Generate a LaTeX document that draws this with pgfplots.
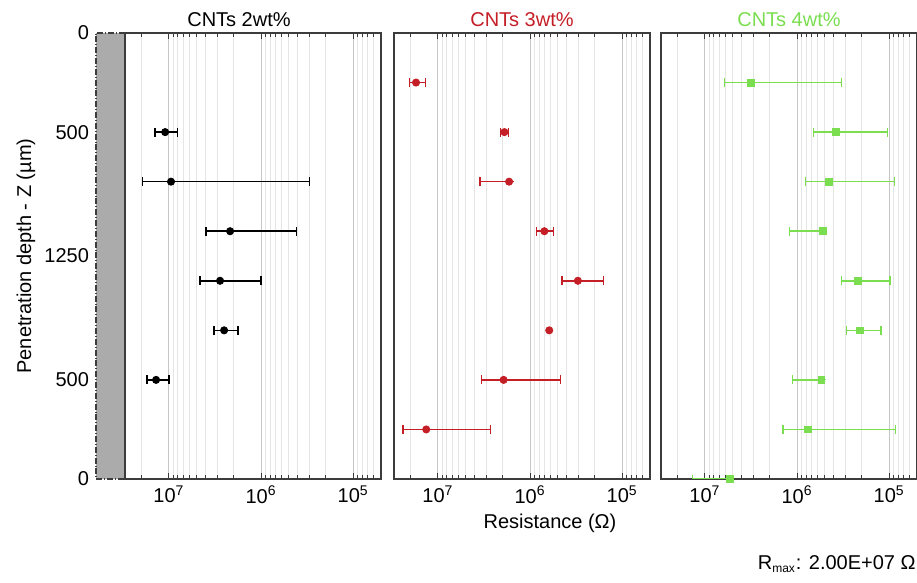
\documentclass[border=0pt]{standalone}
\usepackage{pgfplots}
\pgfplotsset{compat=1.18}
\usepackage{fontspec}
\setmainfont{Liberation Sans}

\definecolor{cntred}{RGB}{196,30,38}
\definecolor{cntgreen}{RGB}{122,222,80}
\definecolor{boxgray}{RGB}{60,60,60}

\pgfplotsset{
  every axis/.append style={
    scale only axis, width=128pt, height=223pt,
    x dir=reverse, xmin=5e4, xmax=3e7,
    ymin=0, ymax=9, y dir=reverse,
    xtick={1e7,1e6,1e5},
    xticklabels={10\textsuperscript{7},10\textsuperscript{6},10\textsuperscript{5}},
    minor xtick={6e4,7e4,8e4,9e4,2e5,3e5,4e5,5e5,6e5,7e5,8e5,9e5,
                 2e6,3e6,4e6,5e6,6e6,7e6,8e6,9e6,2e7,3e7},
    xmajorgrids, xminorgrids,
    major grid style={gray!45, line width=0.5pt},
    minor grid style={gray!20, line width=0.4pt},
    axis line style={boxgray, line width=0.8pt},
    tick style={boxgray, line width=0.5pt},
    major tick length=3pt, minor tick length=2pt,
    tick label style={font=\fontsize{10}{12}\selectfont},
    ytick style={draw=none},
  },
}

\begin{document}
\begin{tikzpicture}
  \path[use as bounding box] (0,0) rectangle (458.5pt,-291.5pt);
  % grey strip left of the first panel
  \fill[black!33] (48pt,-16.5pt) rectangle (62.5pt,-239.5pt);
  \draw[boxgray, densely dashdotted, line width=0.7pt]
    (62.5pt,-16.5pt) -- (48pt,-16.5pt) -- (48pt,-239.5pt) -- (62.5pt,-239.5pt);

  % CNTs 2wt%
  \begin{semilogxaxis}[at={(62.5pt,-16.5pt)}, anchor=north west,
      ytick={0,2,4.5,7,9}, yticklabels={0,500,1250,500,0},
      yticklabel style={xshift=-14.5pt}]
    \addplot[only marks, mark=*, mark size=1.8pt, black, mark options={fill=black},
        error bars/.cd, x dir=both, x explicit,
        error bar style={line width=0.75pt},
        error mark options={rotate=90, mark size=2.2pt, line width=0.6pt}]
      table[x=x, y=y, x error plus=ep, x error minus=em] {
      y x ep em
      2 1.10e7 3.2e6 3.0e6
      3 9.5e6 9.7e6 9.2e6
      4 2.17e6 1.79e6 1.76e6
      5 2.79e6 1.81e6 1.79e6
      6 2.52e6 7.3e5 7.4e5
      7 1.38e7 3.5e6 3.8e6
    };
  \end{semilogxaxis}

  % CNTs 3wt%
  \begin{semilogxaxis}[at={(197pt,-16.5pt)}, anchor=north west, ytick=\empty]
    \addplot[only marks, mark=*, mark size=1.8pt, cntred, mark options={fill=cntred},
        error bars/.cd, x dir=both, x explicit,
        error bar style={line width=0.75pt},
        error mark options={rotate=90, mark size=2.2pt, line width=0.6pt}]
      table[x=x, y=y, x error plus=ep, x error minus=em] {
      y x ep em
      1 1.73e7 3.2e6 3.6e6
      2 1.9e6 1.8e5 2.0e5
      3 1.69e6 1.81e6 0
      4 7.0e5 1.5e5 1.4e5
      5 3.03e5 1.47e5 1.43e5
      7 1.94e6 1.45e6 1.47e6
      8 1.34e7 1.06e7 1.07e7
    };
    \addplot[only marks, mark=*, mark size=1.8pt, cntred, mark options={fill=cntred}]
      coordinates {(6.2e5,6)};
  \end{semilogxaxis}

  % CNTs 4wt%
  \begin{semilogxaxis}[at={(330.5pt,-16.5pt)}, anchor=north west, ytick=\empty]
    \addplot[only marks, mark=square*, mark size=1.7pt, cntgreen, mark options={fill=cntgreen},
        error bars/.cd, x dir=both, x explicit,
        error bar style={line width=0.75pt},
        error mark options={rotate=90, mark size=2.2pt, line width=0.6pt}]
      table[x=x, y=y, x error plus=ep, x error minus=em] {
      y x ep em
      1 3.2e6 2.9e6 2.87e6
      2 3.8e5 2.9e5 2.76e5
      3 4.5e5 3.6e5 3.62e5
      4 5.3e5 6.9e5 0
      5 2.17e5 1.13e5 1.19e5
      6 2.08e5 8.2e4 8.5e4
      7 5.45e5 5.85e5 0
      8 7.6e5 6.6e5 6.74e5
      9 5.4e6 8.3e6 0
    };
  \end{semilogxaxis}

  \node[font=\fontsize{10}{12}\selectfont] at (119.5pt,-10pt) {CNTs 2wt\%};
  \node[font=\fontsize{10}{12}\selectfont, text=cntred] at (261pt,-10pt) {CNTs 3wt\%};
  \node[font=\fontsize{10}{12}\selectfont, text=cntgreen] at (394.5pt,-10pt) {CNTs 4wt\%};
  \node[font=\fontsize{10}{12}\selectfont, rotate=90] at (13pt,-128pt) {Penetration depth - Z (µm)};
  \node[font=\fontsize{10}{12}\selectfont] at (275pt,-261.5pt) {Resistance (Ω)};
  \node[font=\fontsize{10}{12}\selectfont, anchor=east, inner sep=0pt] at (458pt,-282pt)
    {R\textsubscript{\fontsize{6}{7}\selectfont max}: 2.00E+07 Ω};
\end{tikzpicture}
\end{document}
